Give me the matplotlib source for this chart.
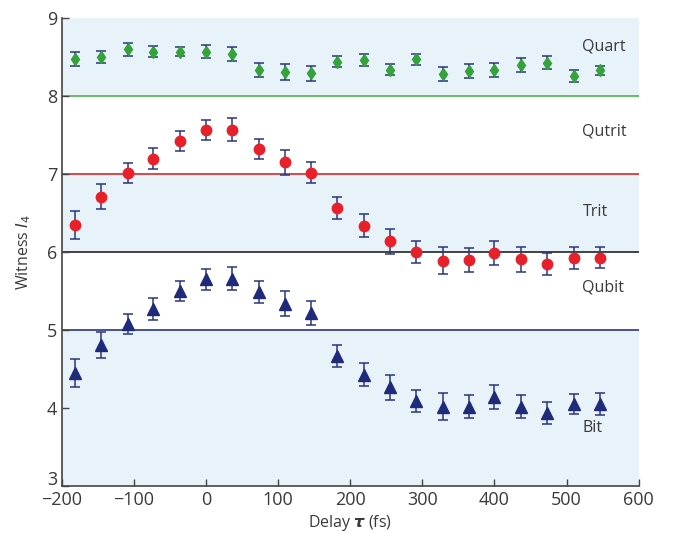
import numpy as np
import matplotlib.pyplot as plt
from matplotlib.transforms import ScaledTranslation

plt.rcParams['font.family'] = ['Open Sans', 'DejaVu Sans']
plt.rcParams['mathtext.fontset'] = 'dejavusans'

# delay positions (fs)
delay = [-182, -146, -109, -73, -36, 0, 36, 73, 109, 146, 182,
         219, 255, 291, 328, 364, 400, 437, 473, 510, 546]

# Quart (green diamonds)
quart = [8.48, 8.50, 8.60, 8.57, 8.57, 8.57, 8.54, 8.33, 8.31, 8.29, 8.44,
         8.46, 8.34, 8.47, 8.28, 8.32, 8.33, 8.40, 8.43, 8.26, 8.33]
quart_err = [0.09, 0.08, 0.08, 0.07, 0.06, 0.08, 0.09, 0.09, 0.10, 0.10, 0.07,
             0.08, 0.07, 0.07, 0.09, 0.09, 0.09, 0.09, 0.08, 0.08, 0.06]

# Qutrit (red circles)
qutrit = [6.35, 6.71, 7.01, 7.20, 7.42, 7.57, 7.57, 7.32, 7.15, 7.02, 6.57,
          6.34, 6.14, 6.00, 5.89, 5.90, 5.99, 5.91, 5.85, 5.92, 5.93]
qutrit_err = [0.18, 0.16, 0.13, 0.14, 0.13, 0.13, 0.15, 0.13, 0.16, 0.14, 0.14,
              0.15, 0.16, 0.14, 0.17, 0.15, 0.15, 0.16, 0.14, 0.14, 0.14]

# Qubit (blue triangles)
qubit = [4.45, 4.81, 5.08, 5.27, 5.50, 5.65, 5.66, 5.49, 5.34, 5.22, 4.67,
         4.43, 4.27, 4.09, 4.02, 4.02, 4.14, 4.02, 3.94, 4.05, 4.05]
qubit_err = [0.18, 0.17, 0.13, 0.14, 0.13, 0.13, 0.15, 0.14, 0.16, 0.15, 0.14,
             0.15, 0.16, 0.14, 0.17, 0.15, 0.15, 0.15, 0.14, 0.13, 0.14]

bounds = [8, 7, 6, 5]
bound_colors = ['#4db34d', '#d9262b', '#222222', '#2a3580']
region_names = ['Quart', 'Qutrit', 'Trit', 'Qubit', 'Bit']
region_y = [8.64, 7.55, 6.51, 5.54, 3.74]

shade = '#e8f2f9'
err_col = '#2a3580'
txt = '#3a3a3a'

fig = plt.figure(figsize=(6.73, 5.33), dpi=100)
ax = fig.add_axes([0.092, 0.088, 0.857, 0.878])

# shaded bands
ax.axhspan(8, 9, color=shade, lw=0, zorder=0)
ax.axhspan(6, 7, color=shade, lw=0, zorder=0)
ax.axhspan(3, 5, color=shade, lw=0, zorder=0)

for b, c in zip(bounds, bound_colors):
    ax.axhline(b, color=c, lw=1.2, zorder=1)

ekw = dict(ecolor=err_col, elinewidth=1.1, capsize=3.5, capthick=1.1,
           linestyle='none', zorder=3)
ax.errorbar(delay, quart, yerr=quart_err, fmt='d', color='#33a33a',
            ms=6.5, mec='#33a33a', **ekw)
ax.errorbar(delay, qutrit, yerr=qutrit_err, fmt='o', color='#e8202a',
            ms=7.5, mec='#e8202a', **ekw)
ax.errorbar(delay, qubit, yerr=qubit_err, fmt='^', color='#1f2b7a',
            ms=8, mec='#1f2b7a', **ekw)

for name, yy in zip(region_names, region_y):
    ax.text(522, yy, name, fontsize=11.5, color=txt, va='center', ha='left')

ax.set_xlim(-200, 600)
ax.set_ylim(3, 9)
ax.set_xticks(np.arange(-200, 601, 100))
ax.set_yticks(np.arange(3, 10, 1))
ax.set_xticklabels(['\u2212200', '\u2212100', '0', '100', '200', '300', '400', '500', '600'])
ax.tick_params(direction='in', length=5, width=1, colors='#444444',
               labelcolor=txt, labelsize=13)
ax.spines['top'].set_visible(False)
ax.spines['right'].set_visible(False)
for s in ['left', 'bottom']:
    ax.spines[s].set_color('#444444')
    ax.spines[s].set_linewidth(1.2)

# lift the lowest y label clear of the -200 label
lab3 = ax.get_yticklabels()[0]
lab3.set_transform(lab3.get_transform() + ScaledTranslation(0, 6 / 72, fig.dpi_scale_trans))

ax.set_xlabel(r'Delay $\boldsymbol{\tau}$ (fs)', fontsize=11.5, color=txt, labelpad=3)
ax.set_ylabel(r'Witness $I_4$', fontsize=11.5, color=txt, labelpad=10)

fig.savefig('out.png', dpi=100)
